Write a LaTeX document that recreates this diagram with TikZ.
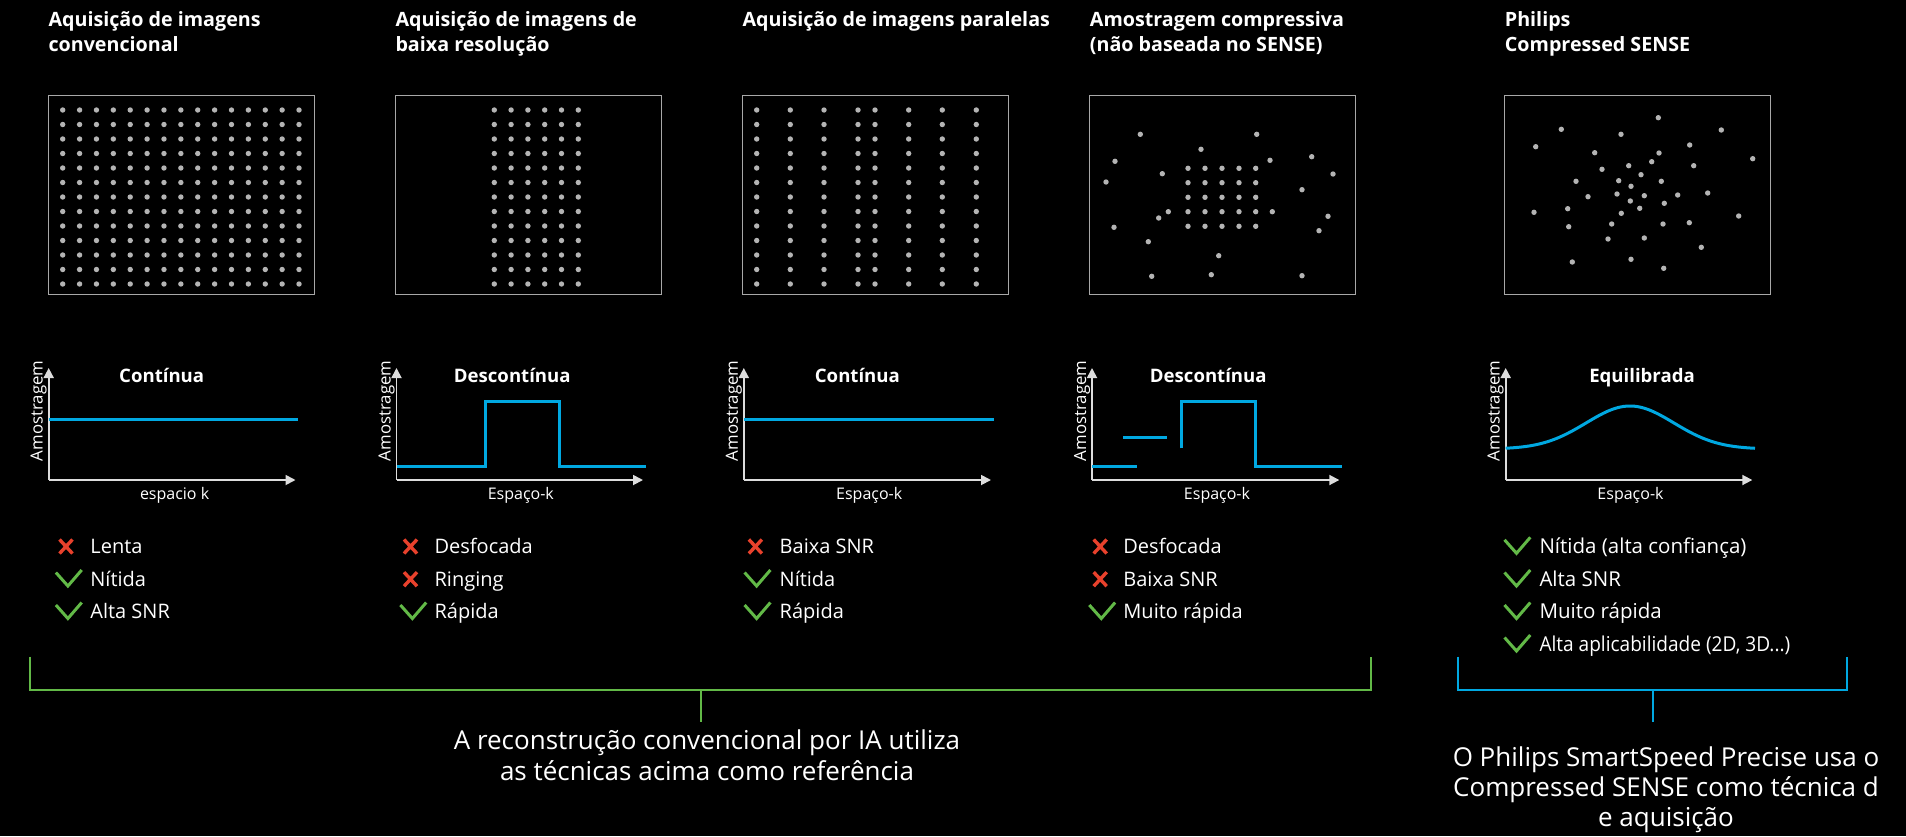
\documentclass[tikz,border=0pt]{standalone}
\usepackage{fontspec}
\setmainfont{Open Sans}
\newfontfamily\condfont[FakeStretch=0.93]{Open Sans}
\usetikzlibrary{arrows.meta}
\definecolor{kblue}{HTML}{00A8E1}
\definecolor{kgreen}{HTML}{62B947}
\definecolor{kred}{HTML}{E8412C}
\definecolor{boxgray}{HTML}{A8A8A8}
\definecolor{dotgray}{HTML}{B4B4B4}
\definecolor{axisgray}{HTML}{DDDDDD}
\begin{document}
\begin{tikzpicture}[x=1pt,y=-1pt,
  title/.style={anchor=base west, inner sep=0pt, text=white, font=\bfseries\fontsize{19.7}{22}\selectfont},
  ctitle/.style={anchor=base, inner sep=0pt, text=white, font=\bfseries\fontsize{18.6}{20}\selectfont},
  ylab/.style={anchor=base, inner sep=0pt, text=white, rotate=90, font=\fontsize{16.8}{20}\selectfont},
  xlab/.style={anchor=base, inner sep=0pt, text=white, font=\fontsize{16}{19}\selectfont},
  item/.style={anchor=base west, inner sep=0pt, text=white, font=\fontsize{20}{22}\selectfont},
  itemb/.style={anchor=base west, inner sep=0pt, text=white, font=\fontsize{20.5}{22}\selectfont},
  foot/.style={anchor=base, inner sep=0pt, text=white, font=\fontsize{26}{28}\selectfont},
  kbox/.style={draw=boxgray, line width=1.3pt},
  axis/.style={draw=axisgray, line width=1.8pt, -{Triangle[length=10pt,width=10pt]}},
  curve/.style={draw=kblue, line width=3pt},
  brkg/.style={draw=kgreen, line width=2pt},
  brkb/.style={draw=kblue, line width=2pt},
  crossicon/.pic={\draw[kred, line width=3.4pt] (-6.5,-7) -- (6.5,7) (-6.5,7) -- (6.5,-7);},
  tickicon/.pic={\draw[kgreen, line width=3pt, line join=miter] (-12,-13.5) -- (0,0) -- (13.8,-16);}
]
\fill[black] (0,0) rectangle (1906,836);
\useasboundingbox (0,0) rectangle (1906,836);

% ---------- titles ----------
\node[title] (t1a) at (48.3,26.7) {Aquisição de imagens};
\node[title] (t1b) at (48.3,51.7) {convencional};
\node[title] (t2a) at (395.3,26.7) {Aquisição de imagens de};
\node[title] (t2b) at (395.3,51.7) {baixa resolução};
\node[title] (t3a) at (742.3,26.7) {Aquisição de imagens paralelas};
\node[title] (t4a) at (1089.7,26.7) {Amostragem compressiva};
\node[title] (t4b) at (1089.7,51.7) {(não baseada no SENSE)};
\node[title] (t5a) at (1504.7,26.7) {Philips};
\node[title] (t5b) at (1504.7,51.7) {Compressed SENSE};

% ---------- k-space boxes ----------
\draw[kbox] (48.3,95.3) rectangle (314.3,294.8);
\draw[kbox] (395.3,95.3) rectangle (661.3,294.8);
\draw[kbox] (742.3,95.3) rectangle (1008.7,294.8);
\draw[kbox] (1089.7,95.3) rectangle (1355.7,294.8);
\draw[kbox] (1504.7,95.3) rectangle (1770.7,294.8);

% box 1: full grid
\foreach \i in {0,...,14}{\foreach \j in {0,...,12}{
  \fill[dotgray] ({62.7+16.88*\i},{110+14.5*\j}) circle (2.7);}}
% box 2: central columns
\foreach \i in {0,...,5}{\foreach \j in {0,...,12}{
  \fill[dotgray] ({494.3+16.8*\i},{110+14.5*\j}) circle (2.7);}}
% box 3: parallel
\foreach \xx in {756.7,790.3,824,858,875,908.7,942.3,976.3}{\foreach \j in {0,...,12}{
  \fill[dotgray] (\xx,{110+14.5*\j}) circle (2.7);}}
% box 4: compressive sampling
\foreach \xx in {1188,1205,1222,1239,1255.7}{\foreach \yy in {168.3,182.7,197.3,211.7,226.3}{
  \fill[dotgray] (\xx,\yy) circle (2.7);}}
\foreach \xx/\yy in {1140.3/134.3,1256.7/134.3,1201/149.3,1115/161.3,1270/160.3,1311.7/156.7,
  1162.3/173.7,1333/174,1106/182,1302/189.7,1168.3/211.7,1272.3/211.7,1158.7/218,1328/216.3,
  1114/227.3,1319/230.7,1148.3/241.7,1218.7/255.7,1211.3/274.7,1151.7/276.3,1302/275.7}{
  \fill[dotgray] (\xx,\yy) circle (2.7);}
% box 5: compressed SENSE
\foreach \xx/\yy in {1658.3/117.7,1561.3/129.3,1621/134.3,1721.3/130,1535.7/146.7,1689.7/145,
  1594.7/152.7,1659/153,1752.7/158.7,1651.7/161.7,1602/169.3,1628.7/165.7,1693.7/165.7,
  1641/174.7,1576/181.3,1618.7/180.7,1661.3/181.3,1631/186.3,1588/196.7,1617/194,1644.3/195.7,
  1677.7/195,1707.7/193,1630.3/201,1664.3/203.3,1534/212.3,1567.7/208.7,1639.7/208.3,
  1621.3/213.3,1738.7/216,1568.7/226.7,1611.7/224,1663/224,1689.3/222.7,1608/239,1644.3/238,
  1701.3/247.3,1572.3/262,1631/259.3,1663.7/268.3}{
  \fill[dotgray] (\xx,\yy) circle (2.7);}

% ---------- charts ----------
% chart 1
\coordinate (o1) at (48.7,480);
\coordinate (y1) at (48.7,368);
\coordinate (x1) at (295.5,480);
\draw[axis] (o1) -- (y1);
\draw[axis] (o1) -- (x1);
\draw[curve] (48.7,419.7) -- (297.8,419.7);
\node[ctitle] (c1) at (161.7,382.7) {Contínua};
\node[ylab] (a1) at (42.7,410.8) {Amostragem};
\node[xlab] (k1) at (174.6,499.3) {espacio k};

% chart 2
\coordinate (o2) at (396.5,480);
\coordinate (y2) at (396.5,368);
\coordinate (x2) at (643,480);
\draw[axis] (o2) -- (y2);
\draw[axis] (o2) -- (x2);
\draw[curve] (396.5,466) -- (485.3,466) -- (485.3,401) -- (559.8,401) -- (559.8,466) -- (645.5,466);
\node[ctitle] (c2) at (512.3,382.7) {Descontínua};
\node[ylab] (a2) at (390.5,410.8) {Amostragem};
\node[xlab] (k2) at (520.8,499.3) {Espaço-k};

% chart 3
\coordinate (o3) at (743.8,480);
\coordinate (y3) at (743.8,368);
\coordinate (x3) at (991,480);
\draw[axis] (o3) -- (y3);
\draw[axis] (o3) -- (x3);
\draw[curve] (743.8,419.7) -- (993.8,419.7);
\node[ctitle] (c3) at (857.4,382.7) {Contínua};
\node[ylab] (a3) at (737.8,410.8) {Amostragem};
\node[xlab] (k3) at (869.2,499.3) {Espaço-k};

% chart 4
\coordinate (o4) at (1092,480);
\coordinate (y4) at (1092,368);
\coordinate (x4) at (1339.3,480);
\draw[axis] (o4) -- (y4);
\draw[axis] (o4) -- (x4);
\draw[curve] (1092,466) -- (1136.6,466);
\draw[curve] (1123.2,437.7) -- (1167.4,437.7);
\draw[curve] (1181.3,448.3) -- (1181.3,401) -- (1255.8,401) -- (1255.8,466) -- (1341.5,466);
\node[ctitle] (c4) at (1208.3,382.7) {Descontínua};
\node[ylab] (a4) at (1086,410.8) {Amostragem};
\node[xlab] (k4) at (1217,499.3) {Espaço-k};

% chart 5
\coordinate (o5) at (1505.7,480);
\coordinate (y5) at (1505.7,368);
\coordinate (x5) at (1752.3,480);
\draw[axis] (o5) -- (y5);
\draw[axis] (o5) -- (x5);
\draw[curve] plot[domain=1505.7:1755, samples=90, smooth] (\x,{449-43*exp(-((\x-1630)/62)^2)});
\node[ctitle] (c5) at (1642,382.7) {Equilibrada};
\node[ylab] (a5) at (1499.7,410.8) {Amostragem};
\node[xlab] (k5) at (1630.5,499.3) {Espaço-k};

% ---------- lists ----------
% column 1
\pic at (66,546.5) {crossicon};
\node[item] (l1a) at (90.2,553.3) {Lenta};
\pic at (67.9,586) {tickicon};
\node[item] (l1b) at (90.2,586) {Nítida};
\pic at (67.9,618.5) {tickicon};
\node[item] (l1c) at (90.2,618.5) {Alta SNR};
% column 2
\pic at (410.5,546.5) {crossicon};
\node[item] (l2a) at (434.4,553.3) {Desfocada};
\pic at (410.5,579.2) {crossicon};
\node[item] (l2b) at (434.4,586) {Ringing};
\pic at (412.4,618.5) {tickicon};
\node[item] (l2c) at (434.4,618.5) {Rápida};
% column 3
\pic at (755.4,546.5) {crossicon};
\node[item] (l3a) at (779.5,553.3) {Baixa SNR};
\pic at (756.6,586) {tickicon};
\node[item] (l3b) at (779.5,586) {Nítida};
\pic at (756.6,618.5) {tickicon};
\node[item] (l3c) at (779.5,618.5) {Rápida};
% column 4
\pic at (1100.2,546.5) {crossicon};
\node[item] (l4a) at (1123.2,553.3) {Desfocada};
\pic at (1100.2,579.2) {crossicon};
\node[item] (l4b) at (1123.2,586) {Baixa SNR};
\pic at (1101.3,618.5) {tickicon};
\node[item] (l4c) at (1123.2,618.5) {Muito rápida};
% column 5
\pic at (1516.5,553.3) {tickicon};
\node[itemb] (l5a) at (1539.3,553.3) {Nítida (alta confiança)};
\pic at (1516.5,586) {tickicon};
\node[itemb] (l5b) at (1539.3,586) {Alta SNR};
\pic at (1516.5,618.5) {tickicon};
\node[itemb] (l5c) at (1539.3,618.5) {Muito rápida};
\pic at (1516.5,651) {tickicon};
\node[itemb, font=\condfont\fontsize{20.5}{22}\selectfont] (l5d) at (1539.3,651) {Alta aplicabilidade (2D, 3D...)};

% ---------- brackets ----------
\coordinate (gl) at (30.4,656.7);
\coordinate (gr) at (1370.6,656.7);
\coordinate (gm) at (701,690);
\coordinate (gs) at (701,722.3);
\draw[brkg] (gl) |- (gm) -| (gr);
\draw[kgreen, line width=2.8pt] (30.4,690) -- (1370.6,690);
\draw[brkg] (gm) -- (gs);

\coordinate (bl) at (1458,656.7);
\coordinate (br) at (1847,656.7);
\coordinate (bm) at (1652.5,690);
\coordinate (bs) at (1652.5,722.3);
\draw[brkb] (bl) |- (bm) -| (br);
\draw[kblue, line width=2.8pt] (1458,690) -- (1847,690);
\draw[brkb] (bm) -- (bs);

% ---------- footers ----------
\node[foot] (f1a) at (707,749) {A reconstrução convencional por IA utiliza};
\node[foot] (f1b) at (707,780.7) {as técnicas acima como referência};
\node[foot] (f2a) at (1666,766.7) {O Philips SmartSpeed Precise usa o};
\node[foot] (f2b) at (1666,796.7) {Compressed SENSE como técnica d};
\node[foot] (f2c) at (1666,826) {e aquisição};
\end{tikzpicture}
\end{document}
